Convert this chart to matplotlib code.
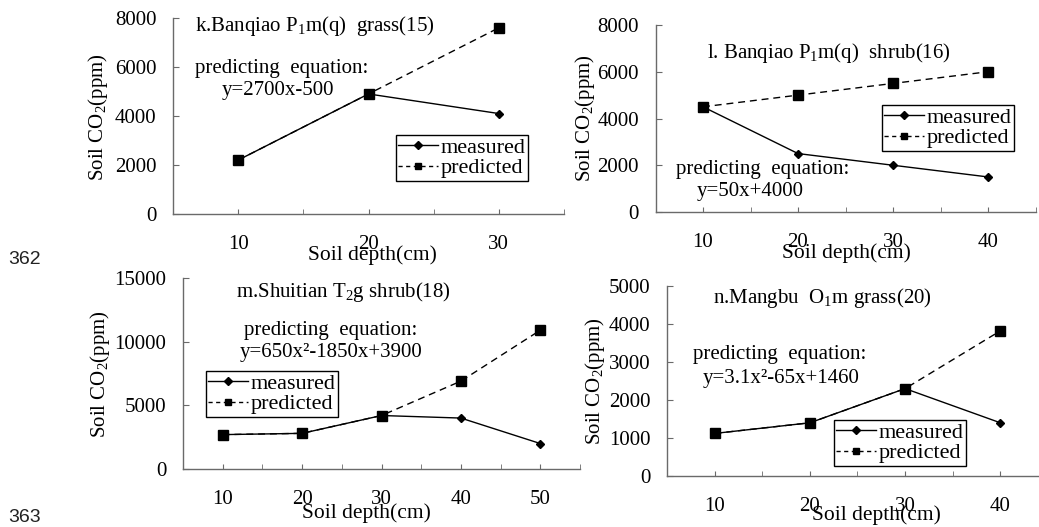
import matplotlib
matplotlib.use("Agg")
import matplotlib.pyplot as plt
from matplotlib.lines import Line2D

plt.rcParams["font.family"] = "Liberation Serif"
plt.rcParams["font.size"] = 15
plt.rcParams["mathtext.fontset"] = "custom"
plt.rcParams["mathtext.rm"] = "Liberation Serif"
plt.rcParams["mathtext.it"] = "Liberation Serif:italic"

W, H = 1039, 527

# data (soil depth in cm, CO2 in ppm)
depth_k = [10, 20, 30]
measured_k = [2200, 4900, 4100]
predicted_k = [2200, 4900, 7600]

depth_l = [10, 20, 30, 40]
measured_l = [4500, 2500, 2000, 1500]
predicted_l = [4500, 5000, 5500, 6000]

depth_m = [10, 20, 30, 40, 50]
measured_m = [2700, 2800, 4200, 4000, 2000]
predicted_m = [2700, 2800, 4200, 6900, 10900]

depth_n = [10, 20, 30, 40]
measured_n = [1120, 1400, 2300, 1400]
predicted_n = [1120, 1400, 2300, 3820]

titles = [r"k.Banqiao P$_1$m(q)  grass(15)", r"l. Banqiao P$_1$m(q)  shrub(16)",
          r"m.Shuitian T$_2$g shrub(18)", r"n.Mangbu  O$_1$m grass(20)"]
equations = ["y=2700x-500", "y=50x+4000", "y=650x²-1850x+3900", "y=3.1x²-65x+1460"]

AXIS_GREY = "#6a6a6a"
FS = 15


def fx(x):
    return x / W


def fy(y):
    return 1 - y / H


def box(x0, x1, y0, y1):
    return [fx(x0), fy(y1), (x1 - x0) / W, (y1 - y0) / H]


fig = plt.figure(figsize=(W / 100, H / 100), dpi=100)


def panel(rect, depth, measured, predicted, xlim, yticks, legend_xy):
    ax = fig.add_axes(rect)
    ax.plot(depth, predicted, color="black", lw=1.0, ls=(0, (5, 3.5)),
            marker="s", ms=6.5, zorder=3)
    ax.plot(depth, measured, color="black", lw=1.0, marker="D", ms=4, zorder=4)
    ax.set_xlim(*xlim)
    ax.set_ylim(yticks[0], yticks[-1])
    ax.set_yticks(yticks)
    ax.set_yticklabels([str(v) for v in yticks])
    ax.set_xticks(range(10, xlim[1], 10))
    ax.set_xticks(range(5, xlim[1] + 1, 10), minor=True)
    for s in ["top", "right"]:
        ax.spines[s].set_visible(False)
    for s in ["left", "bottom"]:
        ax.spines[s].set_color(AXIS_GREY)
        ax.spines[s].set_linewidth(1.0)
    ax.tick_params(axis="x", which="both", direction="in", length=3.5,
                   color=AXIS_GREY, pad=15, labelsize=FS)
    ax.tick_params(axis="y", direction="in", length=4, color=AXIS_GREY, pad=12,
                   labelsize=FS)
    ax.patch.set_alpha(0)
    handles = [Line2D([], [], color="black", lw=1.0, marker="D", ms=4),
               Line2D([], [], color="black", lw=1.0, ls=(0, (3, 2.5)), marker="s", ms=5)]
    fig.legend(handles, ["measured", "predicted"], loc="upper left",
               bbox_to_anchor=(fx(legend_xy[0]), fy(legend_xy[1])),
               bbox_transform=fig.transFigure, frameon=True, fancybox=False,
               edgecolor="black", framealpha=1, borderpad=0.1, labelspacing=0.0,
               handlelength=1.8, handletextpad=0.1, borderaxespad=0, fontsize=16)
    return ax


panel(box(173, 564, 18, 214), depth_k, measured_k, predicted_k, (5, 35),
      [0, 2000, 4000, 6000, 8000], (396, 135))
panel(box(655.5, 1035.5, 25, 212), depth_l, measured_l, predicted_l, (5, 45),
      [0, 2000, 4000, 6000, 8000], (882, 105))
panel(box(183, 580, 278, 469), depth_m, measured_m, predicted_m, (5, 55),
      [0, 5000, 10000, 15000], (206, 371))
panel(box(667, 1048, 286, 476), depth_n, measured_n, predicted_n, (5, 45),
      [0, 1000, 2000, 3000, 4000, 5000], (834, 420))

# y labels
ylab = r"Soil CO$_2$(ppm)"
for x, y in [(98, 117), (585, 118), (100, 374), (595, 381)]:
    fig.text(fx(x), fy(y), ylab, rotation=90, ha="center", va="center", fontsize=FS)

# x labels
for x, y in [(372, 255), (846, 253), (366, 513), (876, 515)]:
    fig.text(fx(x), fy(y), "Soil depth(cm)", ha="center", va="center", fontsize=15.5)

# panel titles
fig.text(fx(195), fy(26), titles[0], ha="left", va="center", fontsize=FS)
fig.text(fx(707), fy(53), titles[1], ha="left", va="center", fontsize=FS)
fig.text(fx(343), fy(292), titles[2], ha="center", va="center", fontsize=FS)
fig.text(fx(713), fy(298), titles[3], ha="left", va="center", fontsize=FS)

# predicting equations
eq_pos = [((195, 68), (222, 90), "left"), ((676, 170), (697, 192), "left"),
          ((331, 330), (331, 352), "center"), ((693, 355), (703, 378), "left")]
for (p1, p2, ha), eq in zip(eq_pos, equations):
    fig.text(fx(p1[0]), fy(p1[1]), "predicting  equation:", ha=ha, va="center", fontsize=FS)
    fig.text(fx(p2[0]), fy(p2[1]), eq, ha=ha, va="center", fontsize=FS)

# line numbers of the source page
fig.text(fx(8), fy(260), "362", ha="left", va="center", fontsize=14,
         family="Liberation Sans", color="#222222")
fig.text(fx(8), fy(518), "363", ha="left", va="center", fontsize=14,
         family="Liberation Sans", color="#222222")

fig.savefig("out.png", dpi=100)
